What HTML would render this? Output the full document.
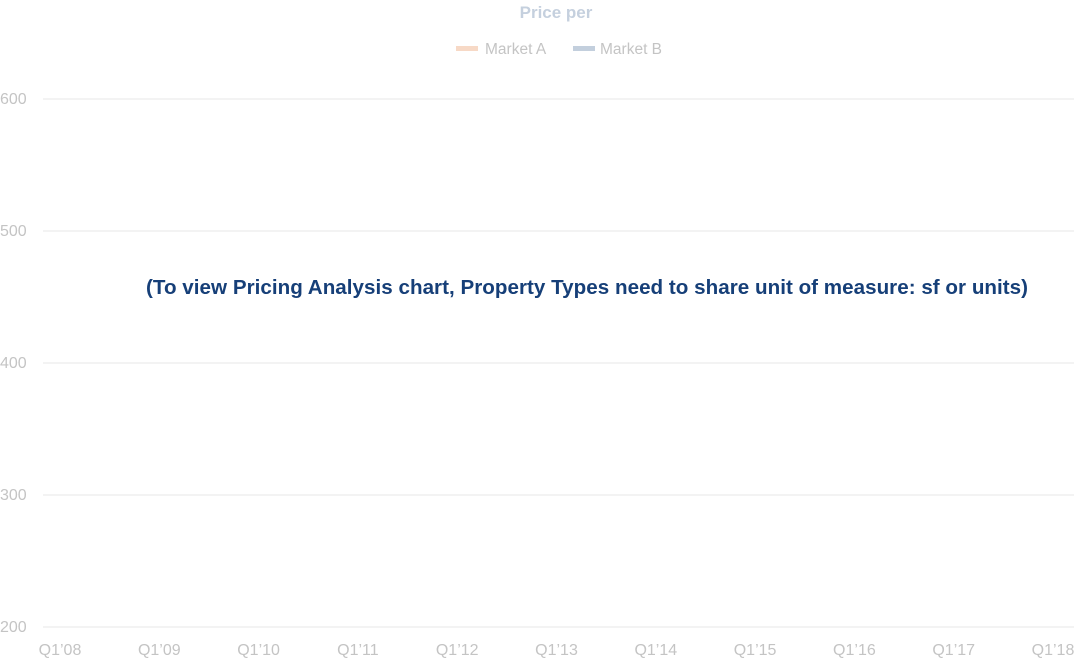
<!DOCTYPE html>
<html><head><meta charset="utf-8"><style>
html,body{margin:0;padding:0;background:#fff;width:1076px;height:660px;overflow:hidden}
svg{display:block;font-family:"Liberation Sans",sans-serif}
</style></head><body>
<svg id="chart" width="1076" height="660">
<text x="556" y="18" text-anchor="middle" font-size="17" font-weight="bold" fill="#c5d0de">Price per</text>
<g>
<g><rect x="456" y="46" width="22" height="5" fill="#f7d9c6"/><text x="485" y="54" font-size="15.5" fill="#c4c4c4">Market A</text></g>
<g><rect x="573" y="46" width="22" height="5" fill="#c3cfdd"/><text x="600" y="54" font-size="15.5" fill="#c4c4c4">Market B</text></g>
</g>
<g id="grid"></g>
<g id="xaxis"></g>
<g id="series"></g>
<text x="587" y="294" text-anchor="middle" font-size="20.6" font-weight="bold" fill="#163f78" textLength="882">(To view Pricing Analysis chart, Property Types need to share unit of measure: sf or units)</text>
</svg>
<script>
const categories = ["Q1\u201908","Q1\u201909","Q1\u201910","Q1\u201911","Q1\u201912","Q1\u201913","Q1\u201914","Q1\u201915","Q1\u201916","Q1\u201917","Q1\u201918"];
const yTicks = [200,300,400,500,600];
const marketA = [];
const marketB = [];
const NS="http://www.w3.org/2000/svg";
const yMin=200,yMax=600,yTop=99,yBot=627;
const xL=60,xR=1053;
function ys(v){return yBot-(v-yMin)/(yMax-yMin)*(yBot-yTop);}
function xs(i){return xL+i*(xR-xL)/(categories.length-1);}
const grid=document.getElementById('grid');
yTicks.forEach(t=>{
  const l=document.createElementNS(NS,'line');
  l.setAttribute('x1',43);l.setAttribute('x2',1074);
  l.setAttribute('y1',ys(t));l.setAttribute('y2',ys(t));
  l.setAttribute('stroke','#efefef');l.setAttribute('stroke-width','1.5');
  
  
  grid.appendChild(l);
  const tx=document.createElementNS(NS,'text');
  tx.setAttribute('x',0);tx.setAttribute('y',ys(t)+5);
  tx.setAttribute('font-size','16');tx.setAttribute('fill','#c4c4c4');
  tx.textContent=t;
  
  
  grid.appendChild(tx);
});
const xa=document.getElementById('xaxis');
categories.forEach((c,i)=>{
  const tx=document.createElementNS(NS,'text');
  tx.setAttribute('x',xs(i));tx.setAttribute('y',655);
  tx.setAttribute('text-anchor','middle');
  tx.setAttribute('font-size','16');tx.setAttribute('fill','#c4c4c4');
  tx.textContent=c;
  
  
  xa.appendChild(tx);
});
const sg=document.getElementById('series');
[[marketA,'#f7d9c6','market-a-line'],[marketB,'#c3cfdd','market-b-line']].forEach(([d,col,nm])=>{
  if(!d.length)return;
  const p=document.createElementNS(NS,'path');
  p.setAttribute('d',d.map((v,i)=>(i?'L':'M')+xs(i)+','+ys(v)).join(''));
  p.setAttribute('fill','none');p.setAttribute('stroke',col);p.setAttribute('stroke-width','3');
  
  
  sg.appendChild(p);
});
</script>
</body></html>
